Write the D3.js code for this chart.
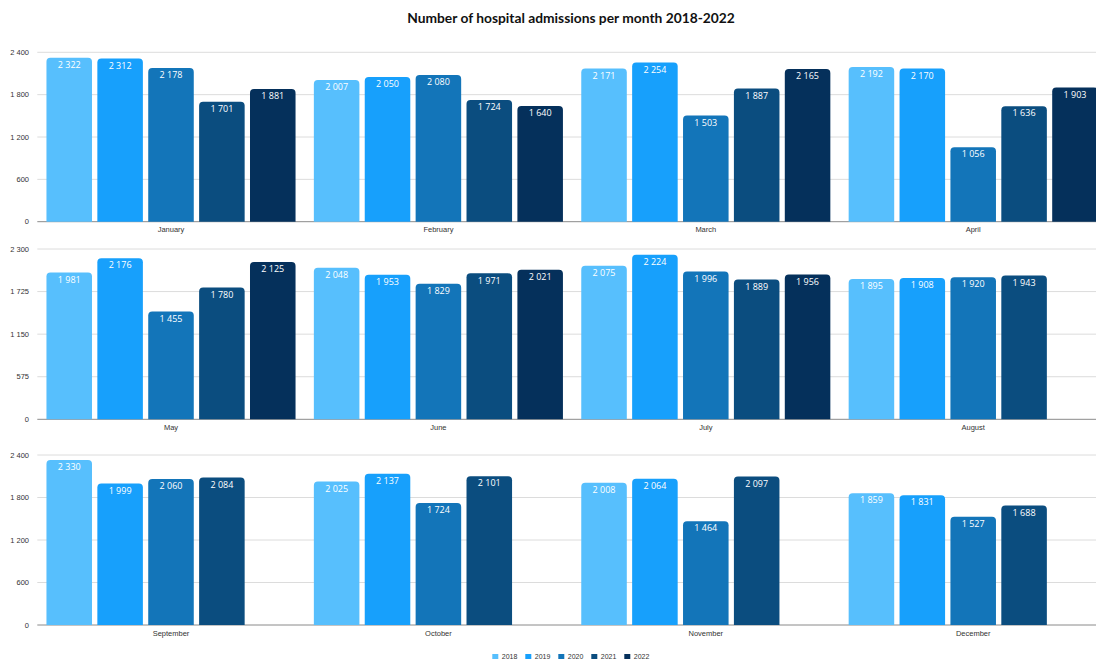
<!DOCTYPE html>
<html>
<head>
<meta charset="utf-8">
<script src="https://cdn.jsdelivr.net/npm/d3@7"></script>
<style>
  body { margin: 0; background: #fff; }
  svg { display: block; font-family: "Liberation Sans", Arial, sans-serif; }
</style>
</head>
<body>
<svg id="chart" width="1096" height="659"></svg>
<script>
// data
let months = ["January", "February", "March", "April", "May", "June",
  "July", "August", "September", "October", "November", "December"];
let years = ["2018", "2019", "2020", "2021", "2022"];
let v2018 = [2322, 2007, 2171, 2192, 1981, 2048, 2075, 1895, 2330, 2025, 2008, 1859];
let v2019 = [2312, 2050, 2254, 2170, 2176, 1953, 2224, 1908, 1999, 2137, 2064, 1831];
let v2020 = [2178, 2080, 1503, 1056, 1455, 1829, 1996, 1920, 2060, 1724, 1464, 1527];
let v2021 = [1701, 1724, 1887, 1636, 1780, 1971, 1889, 1943, 2084, 2101, 2097, 1688];
let v2022 = [1881, 1640, 2165, 1903, 2125, 2021, 1956, null, null, null, null, null];
let rowMax = [2400, 2300, 2400];
let colors = ["#57bffd", "#17a0fc", "#1375b9", "#0b4d7f", "#05305b"];

let series = [v2018, v2019, v2020, v2021, v2022];

var svg = d3.select("#chart");
var fmt = d3.formatLocale({ decimal: ".", thousands: " ", grouping: [3], currency: ["", ""] }).format(",");

svg.append("text")
  .attr("x", 571)
  .attr("y", 23)
  .attr("text-anchor", "middle")
  .attr("font-family", "Lato, 'Open Sans', sans-serif")
  .attr("font-weight", "bold")
  .attr("font-size", "13.8px")
  .attr("fill", "#111")
  .text("Number of hospital admissions per month 2018-2022");

var rowTop = [52.3, 249, 455];
var rowBottom = [221.7, 419.3, 625];
var left = 37.3;
var groupStep = 267.4;

function topRounded(x, y, w, h, r) {
  r = Math.min(r, h);
  return "M" + x + "," + (y + h) +
    "V" + (y + r) +
    "Q" + x + "," + y + " " + (x + r) + "," + y +
    "H" + (x + w - r) +
    "Q" + (x + w) + "," + y + " " + (x + w) + "," + (y + r) +
    "V" + (y + h) + "Z";
}

for (let row = 0; row < 3; row++) {
  let rowMonths = months.slice(row * 4, row * 4 + 4);
  let g = svg.append("g");

  let y = d3.scaleLinear().domain([0, rowMax[row]]).range([rowBottom[row], rowTop[row]]);
  let x0 = d3.scaleBand().domain(rowMonths).range([left, left + groupStep * 4]);
  let x1 = d3.scaleBand().domain(years).range([0, x0.bandwidth()])
    .paddingInner(0.105).paddingOuter(0.18);

  let ticks = d3.range(0, 5).map((i) => rowMax[row] * i / 4);

  // grid lines
  g.append("g")
    .selectAll("line")
    .data(ticks)
    .enter()
    .append("line")
    .attr("x1", left)
    .attr("x2", 1096)
    .attr("y1", (d) => y(d))
    .attr("y2", (d) => y(d))
    .attr("stroke", (d) => (d === 0 ? "#8a8a8a" : "#dcdcdc"))
    .attr("stroke-width", 1);

  // y tick labels
  g.append("g")
    .selectAll("text")
    .data(ticks)
    .enter()
    .append("text")
    .attr("x", 29)
    .attr("y", (d) => y(d))
    .attr("dy", "0.35em")
    .attr("text-anchor", "end")
    .attr("font-size", "7.5px")
    .attr("fill", "#333")
    .text((d) => fmt(d));

  // month labels
  g.append("g")
    .selectAll("text")
    .data(rowMonths)
    .enter()
    .append("text")
    .attr("x", (d) => x0(d) + x0.bandwidth() / 2)
    .attr("y", rowBottom[row] + 8)
    .attr("dy", "0.35em")
    .attr("text-anchor", "middle")
    .attr("font-size", "7.5px")
    .attr("fill", "#333")
    .text((d) => d);

  let cells = [];
  rowMonths.forEach((m, mi) => {
    years.forEach((yr, yi) => {
      let v = series[yi][row * 4 + mi];
      if (v != null) cells.push({ month: m, year: yr, yi: yi, value: v });
    });
  });

  g.append("g")
    .selectAll("path")
    .data(cells)
    .enter()
    .append("path")
    .attr("d", (d) => topRounded(x0(d.month) + x1(d.year), y(d.value),
      x1.bandwidth(), y(0) - y(d.value), 4))
    .attr("fill", (d) => colors[d.yi]);

  g.append("g")
    .selectAll("text")
    .data(cells)
    .enter()
    .append("text")
    .attr("x", (d) => x0(d.month) + x1(d.year) + x1.bandwidth() / 2)
    .attr("y", (d) => y(d.value) + 7)
    .attr("dy", "0.35em")
    .attr("text-anchor", "middle")
    .attr("font-family", "'Open Sans', 'Liberation Sans', sans-serif")
    .attr("font-size", "9px")
    .attr("fill", "#fff")
    .text((d) => fmt(d.value));
}

// legend
var legend = svg.append("g")
  .selectAll("g")
  .data(years)
  .enter()
  .append("g")
  .attr("transform", (d, i) => "translate(" + (492.3 + i * 33) + ",654)");

legend.append("rect")
  .attr("width", 6)
  .attr("height", 6)
  .attr("fill", (d, i) => colors[i]);

legend.append("text")
  .attr("x", 9.5)
  .attr("y", 3)
  .attr("dy", "0.35em")
  .attr("font-size", "7px")
  .attr("fill", "#333")
  .text((d) => d);
</script>
</body>
</html>
